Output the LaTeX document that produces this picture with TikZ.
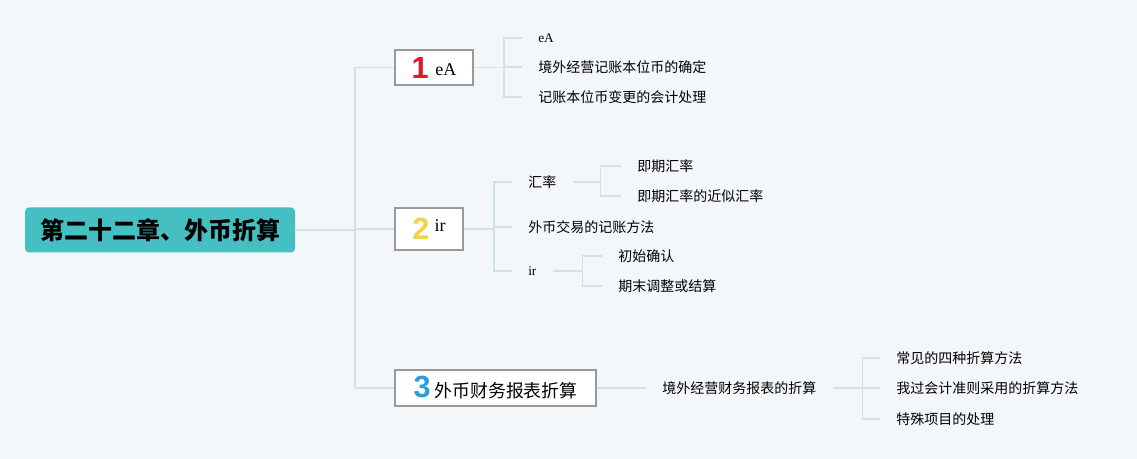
\documentclass[tikz,border=0pt]{standalone}
\usepackage{fontspec}
\setmainfont{Liberation Serif}
\newfontfamily\cjk{Noto Sans CJK SC}
\newfontfamily\numfont{Liberation Sans}
\usepackage{xcolor}
\definecolor{paper}{HTML}{F4F7F9}
\definecolor{rootteal}{HTML}{45BFC2}
\definecolor{boxgray}{HTML}{9A9A9A}
\definecolor{linkblue}{HTML}{CFE3E8}
\definecolor{numred}{HTML}{E0182E}
\definecolor{numyellow}{HTML}{F3D34A}
\definecolor{numblue}{HTML}{2A9EDC}
\usetikzlibrary{positioning}
\newcommand\topicnum[2]{{\numfont\bfseries\fontsize{23}{23}\selectfont\color{#1}#2}}

\begin{document}
\begin{tikzpicture}[
  x=0.75pt, y=-0.75pt,
  link/.style={draw=linkblue, line width=1.2pt},
  rootbox/.style={
    fill=rootteal, rounded corners=3pt,
    minimum width=202.5pt, minimum height=33.75pt,
    font=\cjk\bfseries\fontsize{18}{20}\selectfont, text=black,
  },
  topicbox/.style={
    draw=boxgray, line width=1.2pt, fill=white, inner sep=0pt,
    font=\cjk\fontsize{13.4}{16}\selectfont,
  },
  leaf/.style={anchor=west, inner xsep=12pt, inner ysep=1pt,
    font=\cjk\fontsize{10.5}{12}\selectfont},
]

% === BACKGROUND ===
\fill[paper] (0,0) rectangle (1137,459);
\useasboundingbox (0,0) rectangle (1137,459);

% === ROOT ===
\node[rootbox] (root) at (160,230) {第二十二章、外币折算};

% === MAIN TOPICS ===
\node[topicbox, minimum width=58.5pt, minimum height=26.25pt] (b1) at (434,67.5)
  {\topicnum{numred}{1}\hspace{5pt}\raisebox{2pt}{\rmfamily\fontsize{13.5}{16}\selectfont eA}};
\node[topicbox, minimum width=51pt, minimum height=31.5pt] (b2) at (429,229)
  {\topicnum{numyellow}{2}\hspace{4pt}\raisebox{6pt}{\rmfamily\fontsize{13.5}{16}\selectfont ir}};
\node[topicbox, minimum width=150.75pt, minimum height=27pt] (b3) at (495.5,388)
  {\topicnum{numblue}{3}\hspace{3pt}外币财务报表折算};

\coordinate (j0) at (355,230);
\draw[link] (root.east) -- (j0);
\foreach \t in {b1,b2,b3}
  \draw[link] (j0) |- (\t.west);

% --- topic 1 ---
\node[leaf] (l11) at (522,38) {\rmfamily\fontsize{10}{12}\selectfont eA};
\node[leaf] (l12) at (522,67) {境外经营记账本位币的确定};
\node[leaf] (l13) at (522,97) {记账本位币变更的会计处理};
\draw[link] (b1.east) -- ++(30,0) coordinate (j1);
\foreach \t in {l11,l12,l13}
  \draw[link] (j1) |- (\t.west);

% --- topic 2 ---
\node[leaf] (l21) at (512,182) {汇率};
\node[leaf] (l22) at (512,227) {外币交易的记账方法};
\node[leaf] (l23) at (512,271) {\rmfamily\fontsize{10}{12}\selectfont ir};
\draw[link] (b2.east) -- ++(30,0) coordinate (j2);
\foreach \t in {l21,l22,l23}
  \draw[link] (j2) |- (\t.west);

\node[leaf] (l211) at (621,166) {即期汇率};
\node[leaf] (l212) at (621,196) {即期汇率的近似汇率};
\draw[link] (l21.east) -- ++(28,0) coordinate (j21);
\foreach \t in {l211,l212}
  \draw[link] (j21) |- (\t.west);

\node[leaf] (l231) at (602,256) {初始确认};
\node[leaf] (l232) at (602,286) {期末调整或结算};
\draw[link] (l23.east) -- ++(30,0) coordinate (j23);
\foreach \t in {l231,l232}
  \draw[link] (j23) |- (\t.west);

% --- topic 3 ---
\node[leaf] (l31) at (646,388) {境外经营财务报表的折算};
\draw[link] (b3.east) -- (l31.west);

\node[leaf] (l311) at (880,358) {常见的四种折算方法};
\node[leaf] (l312) at (880,388) {我过会计准则采用的折算方法};
\node[leaf] (l313) at (880,419) {特殊项目的处理};
\draw[link] (l31.east) -- ++(30,0) coordinate (j31);
\foreach \t in {l311,l312,l313}
  \draw[link] (j31) |- (\t.west);

\end{tikzpicture}
\end{document}
